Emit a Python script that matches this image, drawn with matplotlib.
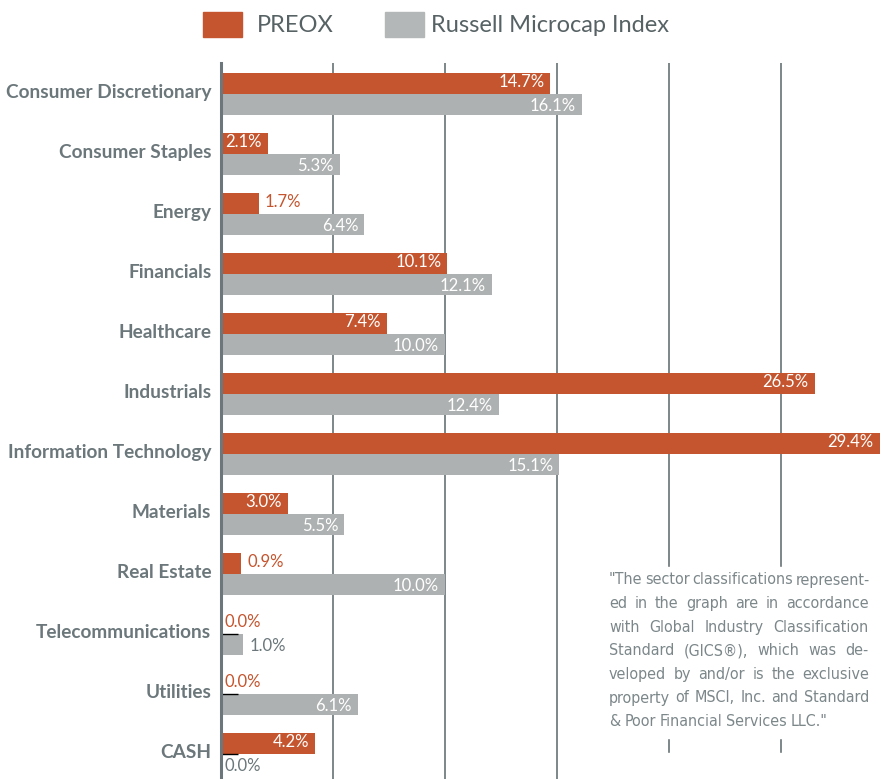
import matplotlib
matplotlib.use('Agg')
import matplotlib.pyplot as plt
from matplotlib.patches import Rectangle
from matplotlib import font_manager
import matplotlib.transforms as mtransforms
import numpy as np

categories = ["Consumer Discretionary", "Consumer Staples", "Energy", "Financials",
              "Healthcare", "Industrials", "Information Technology", "Materials",
              "Real Estate", "Telecommunications", "Utilities", "CASH"]
preox = [14.7, 2.1, 1.7, 10.1, 7.4, 26.5, 29.4, 3.0, 0.9, 0.0, 0.0, 4.2]
russell = [16.1, 5.3, 6.4, 12.1, 10.0, 12.4, 15.1, 5.5, 10.0, 1.0, 6.1, 0.0]
series_names = ["PREOX", "Russell Microcap Index"]
grid_ticks = [5, 10, 15, 20, 25]
note_lines = [
    "\"The sector classifications represent-",
    "ed in the graph are in accordance",
    "with Global Industry Classification",
    "Standard (GICS®), which was de-",
    "veloped by and/or is the exclusive",
    "property of MSCI, Inc. and Standard",
    "& Poor Financial Services LLC.\"",
]

ORANGE = "#c4552e"
GREY_BAR = "#aeb1b1"
GREY_LEG = "#b4b7b8"
TEXT_GREY = "#6b777b"
NOTE_GREY = "#7c878a"

avail = {f.name for f in font_manager.fontManager.ttflist}
base = "Lato" if "Lato" in avail else "DejaVu Sans"
narrow = "DejaVu Sans"

W, H = 883, 779
fig = plt.figure(figsize=(W / 100, H / 100), dpi=100)
fx = lambda px: px / W
fy = lambda py: 1 - py / H

ax = fig.add_axes([fx(221), 0, fx(881) - fx(221), fy(63)])
y = np.arange(len(categories))
h = 0.35
ax.barh(y - h / 2, preox, height=h, color=ORANGE, zorder=2)
ax.barh(y + h / 2, russell, height=h, color=GREY_BAR, zorder=2)
ax.set_xlim(0, 29.46)
ax.set_ylim(11.42, -0.517)

ax.set_xticks(grid_ticks)
ax.tick_params(axis='x', length=0, labelbottom=False)
ax.grid(axis='x', color="#737e81", lw=1.3, zorder=0)
for s in ["top", "right", "bottom"]:
    ax.spines[s].set_visible(False)
ax.spines["left"].set_color("#6b777b")
ax.spines["left"].set_linewidth(2.2)
ax.spines["left"].set_zorder(3)

ax.set_yticks(y)
ax.set_yticklabels(categories, fontfamily=base, fontweight="bold", fontsize=13.7, color=TEXT_GREY)
ax.tick_params(axis='y', length=0, pad=7)
shift = mtransforms.ScaledTranslation(0, 3 / 100, fig.dpi_scale_trans)
for t in ax.get_yticklabels():
    t.set_transform(t.get_transform() + shift)

def label(vals, offs, out_color):
    for i, v in enumerate(vals):
        yy = i + offs
        txt = f"{v:.1f}%"
        if v >= 2.0:
            ax.annotate(txt, xy=(v, yy), xytext=(-6, 0), textcoords="offset pixels",
                        ha="right", va="center", color="white", fontsize=12,
                        fontfamily=base, zorder=4)
        else:
            ax.annotate(txt, xy=(v, yy), xytext=(6 if v > 0 else 4, 0), textcoords="offset pixels",
                        ha="left", va="center", color=out_color, fontsize=12,
                        fontfamily=base, zorder=4)
        if v == 0:
            ax.plot([0, 0.75], [i, i], color="black", lw=1, zorder=3, solid_capstyle="butt")

label(preox, -h / 2 - 0.02, ORANGE)
label(russell, h / 2 + 0.02, TEXT_GREY)

# legend
fig.patches.append(Rectangle((fx(203), fy(37)), fx(242) - fx(203), fy(12) - fy(37),
                             transform=fig.transFigure, color=ORANGE))
fig.text(fx(257), fy(25), series_names[0], ha="left", va="center", fontsize=17,
         fontfamily=base, fontweight="normal", color="#576265")
fig.patches.append(Rectangle((fx(385), fy(37)), fx(424) - fx(385), fy(12) - fy(37),
                             transform=fig.transFigure, color=GREY_LEG))
fig.text(fx(431), fy(25), series_names[1], ha="left", va="center", fontsize=17,
         fontfamily=base, fontweight="normal", color="#576265")

# note box with white background
fig.patches.append(Rectangle((fx(600), fy(738)), fx(883) - fx(600), fy(567) - fy(738),
                             transform=fig.transFigure, color="white", zorder=5))
fig.patches.append(Rectangle((fx(600), fy(779)), fx(883) - fx(600), fy(753) - fy(779),
                             transform=fig.transFigure, color="white", zorder=5))
renderer = fig.canvas.get_renderer()
x0, x1 = 609, 869
note_fs = 11.5
nkw = dict(fontsize=note_fs, fontfamily=narrow, fontstretch="condensed")
for li, line in enumerate(note_lines):
    ypx = 580 + li * 23.6
    words = line.split(" ")
    widths = []
    for w in words:
        t = fig.text(0, 0, w, **nkw)
        widths.append(t.get_window_extent(renderer).width)
        t.remove()
    if li == len(note_lines) - 1:
        gap = 4
    else:
        gap = max((x1 - x0 - sum(widths)) / (len(words) - 1), 2.5)
    xp = x0
    for w, wd in zip(words, widths):
        fig.text(fx(xp), fy(ypx), w, ha="left", va="center", color=NOTE_GREY, zorder=6, **nkw)
        xp += wd + gap

fig.savefig("out.png", dpi=100)
